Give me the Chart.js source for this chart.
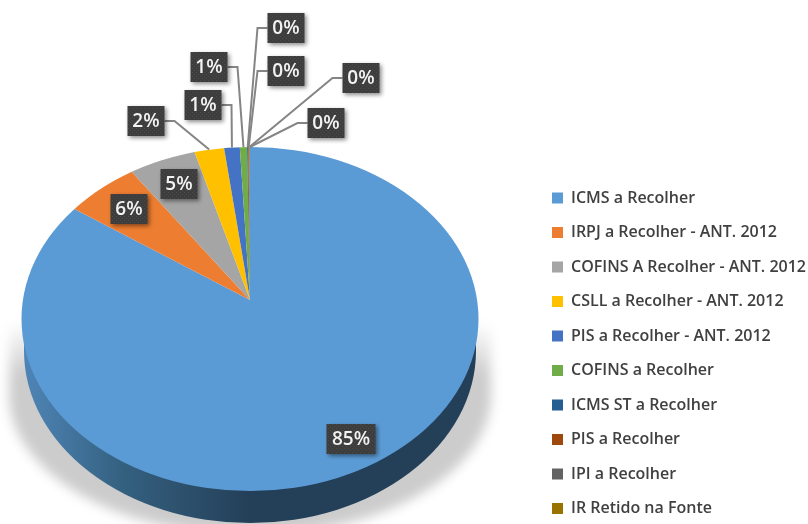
<!DOCTYPE html>
<html>
<head>
<meta charset="utf-8">
<title>Tributos a recolher</title>
<script src="https://cdn.jsdelivr.net/npm/chart.js@4"></script>
<style>
  html, body { margin: 0; padding: 0; background: #fff; overflow: hidden; }
  canvas { display: block; }
</style>
</head>
<body>
<canvas id="chart" width="808" height="524"></canvas>
<script>
const categories = [
    'ICMS a Recolher',
    'IRPJ a Recolher - ANT. 2012',
    'COFINS A Recolher - ANT. 2012',
    'CSLL a Recolher - ANT. 2012',
    'PIS a Recolher - ANT. 2012',
    'COFINS a Recolher',
    'ICMS ST a Recolher',
    'PIS a Recolher',
    'IPI a Recolher',
    'IR Retido na Fonte'
];
const shares = [85.49, 5.7, 4.9, 2.1, 1.1, 0.51, 0.08, 0.06, 0.04, 0.02];
const shareLabels = ['85%', '6%', '5%', '2%', '1%', '1%', '0%', '0%', '0%', '0%'];
const sliceColors = ['#5b9bd5', '#ed7d31', '#a5a5a5', '#ffc000', '#4472c4', '#70ad47', '#255e91', '#9e480e', '#636363', '#997300'];

// Callout boxes: centre of each box, and which way its leader leaves (0 = no leader)
const boxCentres = [[351, 439], [129, 209], [179, 184], [146, 121], [203, 105], [209, 67], [286, 28], [286, 71], [361, 78], [326, 123]];
const leaderSide = [0, 0, 0, 1, 1, 1, -1, -1, -1, -1];

// Perspective pie: the outline is one ellipse, but the slices meet higher up
const outline = { x: 250, y: 319, rx: 228.5, ry: 172, depth: 32 };
const apexY = 300;

const font = '"Open Sans", sans-serif';

function dotPattern(ctx) {
    const tile = document.createElement('canvas');
    tile.width = 4;
    tile.height = 4;
    const t = tile.getContext('2d');
    t.fillStyle = '#3d3d3d';
    t.fillRect(0, 0, 4, 4);
    t.fillStyle = '#4b4b4b';
    t.fillRect(0, 0, 1, 1);
    t.fillRect(2, 2, 1, 1);
    return ctx.createPattern(tile, 'repeat');
}

const piePerspective = {
    id: 'piePerspective',

    afterLayout(chart) {
        // the legend column sits further right and lower than the default layout puts it
        const legend = chart.legend;
        const padding = legend.options.labels.padding;
        legend.left = 552 - padding;
        legend.top = 190 - padding;
        legend.bottom = chart.height + 100;
    },

    beforeDatasetsDraw(chart) {
        const ctx = chart.ctx;

        // soft ground shadow
        ctx.save();
        ctx.filter = 'blur(6px)';
        const ground = ctx.createLinearGradient(0, 322, 0, 375);
        ground.addColorStop(0, 'rgba(0,0,0,0)');
        ground.addColorStop(1, 'rgba(0,0,0,0.2)');
        ctx.fillStyle = ground;
        ctx.beginPath();
        ctx.moveTo(outline.x - 240, 322);
        ctx.lineTo(outline.x + 240, 322);
        ctx.ellipse(outline.x, 395, 241, 140, 0, 0, Math.PI);
        ctx.closePath();
        ctx.fill();
        ctx.restore();

        // side wall
        ctx.save();
        const wallRx = outline.rx - 2.5;
        const wall = ctx.createLinearGradient(outline.x - outline.rx, 0, outline.x, 0);
        wall.addColorStop(0, '#4f86b8');
        wall.addColorStop(0.45, '#34607f');
        wall.addColorStop(1, '#243f58');
        ctx.fillStyle = wall;
        ctx.beginPath();
        ctx.moveTo(outline.x - wallRx, outline.y);
        ctx.lineTo(outline.x + wallRx, outline.y);
        ctx.ellipse(outline.x, outline.y + outline.depth, wallRx, outline.ry, 0, 0, Math.PI);
        ctx.closePath();
        ctx.fill();
        ctx.restore();
    },

    beforeDatasetDraw(chart, args) {
        const ctx = chart.ctx;
        const arcs = args.meta.data;
        const cx = arcs[0].x;
        const cy = arcs[0].y;
        const r = arcs[0].outerRadius;

        ctx.save();
        ctx.beginPath();
        ctx.ellipse(outline.x, outline.y, outline.rx, outline.ry, 0, 0, Math.PI * 2);
        ctx.clip();

        // back half is squashed harder than the front half
        const halves = [
            { top: 0, height: apexY, sx: 1.02 * outline.rx / r, sy: 156 / r },
            { top: apexY, height: 524 - apexY, sx: 1.15 * outline.rx / r, sy: 195 / r }
        ];
        halves.forEach(half => {
            ctx.save();
            ctx.beginPath();
            ctx.rect(0, half.top, chart.width, half.height);
            ctx.clip();
            ctx.translate(outline.x, apexY);
            ctx.scale(half.sx, half.sy);
            ctx.translate(-cx, -cy);
            arcs.forEach(arc => arc.draw(ctx));
            ctx.restore();
        });
        ctx.restore();
        return false;
    },

    afterDraw(chart) {
        const ctx = chart.ctx;
        const arcs = chart.getDatasetMeta(0).data;
        const pattern = dotPattern(ctx);

        arcs.forEach((arc, i) => {
            const [bx, by] = boxCentres[i];
            const w = shareLabels[i].length > 2 ? 49 : 37;
            const h = 30;

            // leader from the box side, one short elbow, then to the slice rim
            if (leaderSide[i] !== 0) {
                const mid = (arc.startAngle + arc.endAngle) / 2;
                const rimX = outline.x + Math.cos(mid) * outline.rx;
                const rimY = apexY + Math.sin(mid) * (apexY - outline.y + outline.ry);
                const sx = bx + leaderSide[i] * w / 2;
                ctx.save();
                ctx.strokeStyle = '#858585';
                ctx.lineWidth = 2;
                ctx.beginPath();
                ctx.moveTo(sx, by);
                ctx.lineTo(sx + leaderSide[i] * 10, by);
                ctx.lineTo(rimX, rimY);
                ctx.stroke();
                ctx.restore();
            }

            ctx.save();
            ctx.shadowColor = 'rgba(0,0,0,0.45)';
            ctx.shadowBlur = 4;
            ctx.shadowOffsetX = 2;
            ctx.shadowOffsetY = 2;
            ctx.fillStyle = pattern;
            ctx.fillRect(bx - w / 2, by - h / 2, w, h);
            ctx.restore();

            ctx.save();
            ctx.fillStyle = '#f2f2f2';
            ctx.font = '600 19px ' + font;
            ctx.textAlign = 'center';
            ctx.textBaseline = 'middle';
            ctx.fillText(shareLabels[i], bx, by + 1);
            ctx.restore();
        });
    }
};

new Chart(document.getElementById('chart'), {
    type: 'pie',
    data: {
        labels: categories,
        datasets: [{
            data: shares,
            backgroundColor: sliceColors,
            borderWidth: 0
        }]
    },
    plugins: [piePerspective],
    options: {
        responsive: false,
        animation: false,
        layout: { padding: 0 },
        plugins: {
            tooltip: { enabled: false },
            legend: {
                position: 'right',
                align: 'start',
                labels: {
                    boxWidth: 11,
                    boxHeight: 11,
                    padding: 18.5,
                    color: '#404040',
                    font: { family: font, size: 16, weight: '600' }
                }
            }
        }
    }
});
</script>
</body>
</html>
